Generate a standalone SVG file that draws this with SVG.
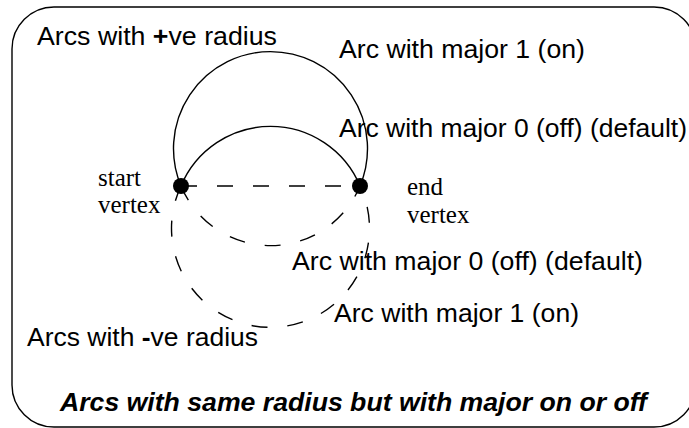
<svg xmlns="http://www.w3.org/2000/svg" width="689" height="428" viewBox="0 0 689 428">
<style>
.lbl{font-family:"Liberation Sans",Arial,sans-serif;font-size:25px;fill:#000}
.ser{font-family:"Liberation Serif","Times New Roman",serif;font-size:25px;fill:#000}
.ttl{font-family:"Liberation Sans",Arial,sans-serif;font-size:25px;font-weight:bold;font-style:italic;fill:#000}
.solid{fill:none;stroke:#000;stroke-width:1.4}
.dash{fill:none;stroke:#000;stroke-width:1.4;stroke-dasharray:16 20}
</style>
<rect x="12" y="7" width="684" height="420" rx="42" ry="42" fill="#fff" stroke="#000" stroke-width="1.4"/>
<g id="connectors">
<path class="solid" d="M181,186 A97,97 0 1 1 360,186"/>
<path class="solid" d="M181,186 A97,97 0 0 1 360,186"/>
<path class="dash" d="M181,186 L360,186"/>
<path class="dash" d="M181,186 A97,97 0 0 0 360,186"/>
<path class="dash" d="M181,186 A99,99 0 1 0 360,186"/>
</g>
<g id="start-vertex">
<circle cx="181" cy="186" r="8" fill="#000"/>
<text class="ser" x="98" y="186">start</text>
<text class="ser" x="98" y="213">vertex</text>
</g>
<g id="end-vertex">
<circle cx="360" cy="186" r="8" fill="#000"/>
<text class="ser" x="407" y="195">end</text>
<text class="ser" x="407" y="223">vertex</text>
</g>
<g id="label-pos">
<text class="lbl" x="37" y="45" textLength="240" lengthAdjust="spacingAndGlyphs">Arcs with <tspan font-weight="bold">+</tspan>ve radius</text>
</g>
<g id="label-pos-major1">
<text class="lbl" x="339" y="58" textLength="246" lengthAdjust="spacingAndGlyphs">Arc with major 1 (on)</text>
</g>
<g id="label-pos-major0">
<text class="lbl" x="339" y="137" textLength="348" lengthAdjust="spacingAndGlyphs">Arc with major 0 (off) (default)</text>
</g>
<g id="label-neg-major0">
<text class="lbl" x="292" y="270" textLength="351" lengthAdjust="spacingAndGlyphs">Arc with major 0 (off) (default)</text>
</g>
<g id="label-neg-major1">
<text class="lbl" x="334" y="322" textLength="245" lengthAdjust="spacingAndGlyphs">Arc with major 1 (on)</text>
</g>
<g id="label-neg">
<text class="lbl" x="27" y="346" textLength="231" lengthAdjust="spacingAndGlyphs">Arcs with <tspan font-weight="bold">-</tspan>ve radius</text>
</g>
<g id="title">
<text class="ttl" x="60" y="411" textLength="587" lengthAdjust="spacingAndGlyphs">Arcs with same radius but with major on or off</text>
</g>
</svg>
